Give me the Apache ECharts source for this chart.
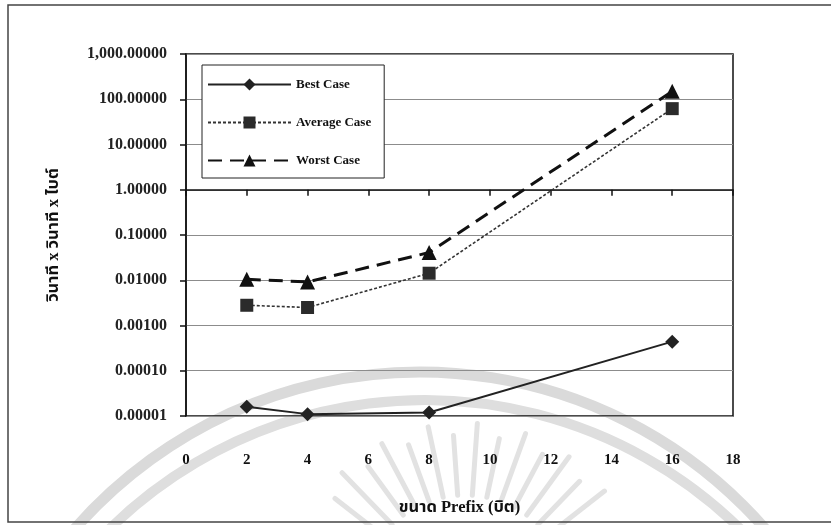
<!DOCTYPE html>
<html>
<head>
<meta charset="utf-8">
<script src="https://cdn.jsdelivr.net/npm/echarts@6/dist/echarts.min.js"></script>
<style>
  html, body { margin: 0; padding: 0; background: #fff; }
  #chart { width: 831px; height: 525px; }
</style>
</head>
<body>
<div id="chart"></div>
<script>
// Prefix sizes (bits) and measured cost for each case
const prefixSizes = [2, 4, 8, 16];
const bestCase = [0.000016, 0.000011, 0.000012, 0.00044];
const averageCase = [0.0028, 0.0025, 0.0143, 62];
const worstCase = [0.0105, 0.0092, 0.041, 150];

const seriesNames = ['Best Case', 'Average Case', 'Worst Case'];
const xTicks = [0, 2, 4, 6, 8, 10, 12, 14, 16, 18];
const yTicks = [0.00001, 0.0001, 0.001, 0.01, 0.1, 1, 10, 100, 1000];
const crossAt = 1; // value where the horizontal axis crosses the vertical one

const xTitle = 'ขนาด Prefix (บิต)';
const yTitle = 'วินาที x วินาที x ไบต์';

const serif = "'Liberation Serif', 'Times New Roman', serif";
const thai = "'Liberation Serif', 'Noto Sans Thai', 'Loma', 'Garuda', 'Noto Sans', sans-serif";

function pairs(values) {
  return prefixSizes.map((x, i) => [x, values[i]]);
}

function fmtY(v) {
  return Number(v).toLocaleString('en-US', { minimumFractionDigits: 5, maximumFractionDigits: 5 });
}

const chart = echarts.init(document.getElementById('chart'), null, { renderer: 'canvas' });

const gridLeft = 186, gridTop = 54, gridW = 547, gridH = 362;
const logMin = Math.log10(yTicks[0]);
const logMax = Math.log10(yTicks[yTicks.length - 1]);
// distance from the plot bottom up to the crossing value
const crossOffset = gridH * (Math.log10(crossAt) - logMin) / (logMax - logMin);

// faint watermark: two arcs and a fan of rays behind the chart
const watermark = [
  { type: 'arc', z: -10, silent: true,
    shape: { cx: 420, cy: 830, r: 458, startAngle: Math.PI * 1.05, endAngle: Math.PI * 1.95 },
    style: { stroke: '#dadada', lineWidth: 11, fill: null } },
  { type: 'arc', z: -10, silent: true,
    shape: { cx: 425, cy: 850, r: 450, startAngle: Math.PI * 1.08, endAngle: Math.PI * 1.92 },
    style: { stroke: '#dedede', lineWidth: 10, fill: null } }
];
const rayCenter = [465, 600];
for (let deg = 38; deg <= 142; deg += 8) {
  const a = deg * Math.PI / 180;
  const r1 = 105, r2 = 165 + (deg % 16 === 6 ? 12 : 0);
  watermark.push({
    type: 'line', z: -10, silent: true,
    shape: {
      x1: rayCenter[0] + r1 * Math.cos(a), y1: rayCenter[1] - r1 * Math.sin(a),
      x2: rayCenter[0] + r2 * Math.cos(a), y2: rayCenter[1] - r2 * Math.sin(a)
    },
    style: { stroke: '#e2e2e2', lineWidth: 5, lineCap: 'round' }
  });
}

chart.setOption({
  animation: false,
  backgroundColor: '#fff',
  graphic: watermark.concat([
    // outer frame
    { type: 'rect', z: 100, silent: true,
      shape: { x: 8, y: 5, width: 840, height: 517 },
      style: { stroke: '#444', lineWidth: 1.5, fill: null } }
  ]),
  grid: {
    left: gridLeft, top: gridTop, width: gridW, height: gridH,
    show: true, borderColor: '#111', borderWidth: 1.5, backgroundColor: 'transparent'
  },
  legend: {
    orient: 'vertical',
    left: 202, top: 65,
    padding: [13, 13, 11, 5],
    itemGap: 25,
    itemWidth: 83, itemHeight: 15,
    backgroundColor: '#fff',
    borderColor: '#222', borderWidth: 1,
    data: seriesNames,
    textStyle: { fontFamily: serif, fontWeight: 'bold', fontSize: 13, color: '#111' }
  },
  xAxis: [
    {
      type: 'value', min: xTicks[0], max: xTicks[xTicks.length - 1], interval: 2,
      name: xTitle, nameLocation: 'middle', nameGap: 83,
      nameTextStyle: { fontFamily: thai, fontWeight: 'bold', fontSize: 16.5, color: '#111' },
      axisLine: { show: false }, axisTick: { show: false }, splitLine: { show: false },
      axisLabel: { margin: 37, fontFamily: serif, fontWeight: 'bold', fontSize: 15, color: '#111' }
    },
    {
      // axis line drawn where the value axis crosses
      type: 'value', min: xTicks[0], max: xTicks[xTicks.length - 1], interval: 2,
      position: 'bottom', offset: -crossOffset,
      axisLine: { show: true, lineStyle: { color: '#111', width: 1.5 } },
      axisTick: { show: true, length: 6, lineStyle: { color: '#111', width: 1.5 } },
      axisLabel: { show: false }, splitLine: { show: false }
    }
  ],
  yAxis: {
    type: 'log', logBase: 10, min: yTicks[0], max: yTicks[yTicks.length - 1],
    interval: 1,
    name: yTitle, nameLocation: 'middle', nameGap: 124, nameRotate: 90,
    nameTextStyle: { fontFamily: thai, fontWeight: 'bold', fontSize: 16.5, color: '#111' },
    axisLine: { show: true, lineStyle: { color: '#111', width: 1.5 } },
    axisTick: { show: true, length: 6, lineStyle: { color: '#111', width: 1.5 } },
    axisLabel: { margin: 19, fontFamily: serif, fontSize: 16, fontWeight: 'bold', color: '#222',
      formatter: fmtY },
    splitLine: { show: true, lineStyle: { color: '#8c8c8c', width: 1.2 } }
  },
  series: [
    {
      name: seriesNames[0], type: 'line', data: pairs(bestCase),
      symbol: 'diamond', symbolSize: 14,
      itemStyle: { color: '#222' },
      lineStyle: { color: '#222', width: 2, type: 'solid' }
    },
    {
      name: seriesNames[1], type: 'line', data: pairs(averageCase),
      symbol: 'rect', symbolSize: 13,
      itemStyle: { color: '#2b2b2b' },
      lineStyle: { color: '#333', width: 1.6, type: [3, 2] }
    },
    {
      name: seriesNames[2], type: 'line', data: pairs(worstCase),
      symbol: 'triangle', symbolSize: 15,
      itemStyle: { color: '#111' },
      lineStyle: { color: '#111', width: 3, type: [14, 8] }
    }
  ]
});
</script>
</body>
</html>
